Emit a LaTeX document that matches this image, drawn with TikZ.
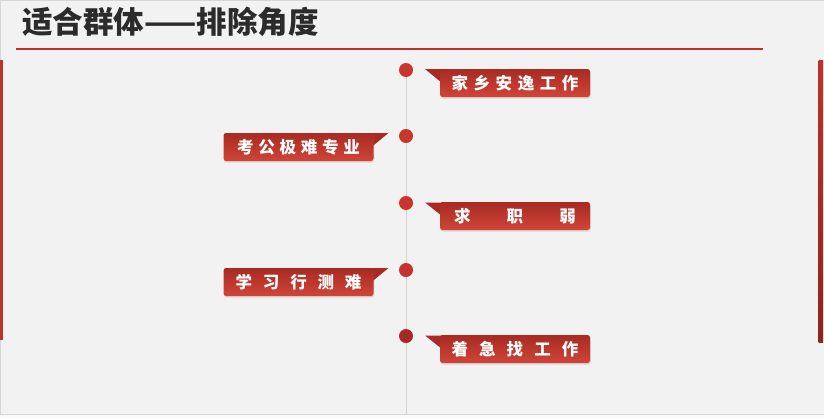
\documentclass[tikz,border=0pt]{standalone}
\usepackage{fontspec}
\newfontfamily\cjk{Noto Sans CJK SC}
\usetikzlibrary{shadows,backgrounds}
\definecolor{bgc}{HTML}{F2F2F2}
\definecolor{framec}{HTML}{D6D6D6}
\definecolor{titlec}{HTML}{2B2B2B}
\definecolor{redline}{HTML}{BC3328}
\definecolor{ribtop}{HTML}{A82A22}
\definecolor{ribbot}{HTML}{D04538}
\definecolor{dotc}{HTML}{C9352D}
\definecolor{dotd}{HTML}{A92A24}
\definecolor{axisc}{HTML}{D2D2D2}
\begin{document}
\begin{tikzpicture}[x=1pt,y=-1pt,
  ribbon/.style={minimum width=150pt, minimum height=28pt, inner sep=0pt,
    rounded corners=2.5pt, top color=ribtop, bottom color=ribbot, draw=none,
    drop shadow={opacity=0.22, shadow xshift=0.8pt, shadow yshift=-1.6pt},
    text=white, font=\cjk\bfseries\fontsize{16.5}{18}\selectfont},
  tail/.style={fill=ribtop, draw=none},
  dotm/.style={circle, minimum size=14pt, inner sep=0pt, fill=dotc, draw=none},
  axis/.style={draw=axisc, line width=1pt}
]
\useasboundingbox (0,0) rectangle (824,418);

% title
\node[anchor=west, inner sep=0pt, text=titlec, font=\cjk\bfseries\fontsize{30.5}{32}\selectfont] (title) at (22,22) {适合群体——排除角度};
\coordinate (ul) at (16,49);
\coordinate (ur) at (763,49);
\draw[redline, line width=2.4pt] (ul) -- (ur);

% axis dots
\coordinate (axisend) at (406,414);
\node[dotm] (d1) at (406,70) {};
\node[dotm] (d2) at (406,136) {};
\node[dotm] (d3) at (406,203) {};
\node[dotm, fill=dotc!85!dotd] (d4) at (406,270) {};
\node[dotm, fill=dotd] (d5) at (406,336) {};

\begin{pgfonlayer}{background}
\fill[bgc] (0,0) rectangle (824,418);
\draw[framec, line width=1pt] (0.5,418) -- (0.5,0.5) -- (823.5,0.5);
\draw[framec, line width=1pt] (0,414.5) -- (824,414.5);
\fill[white!60!bgc] (0,415) rectangle (824,418);
\fill[redline] (0,60) rectangle (2.5,340);
\shade[top color=redline, bottom color=ribtop!85!black] (818.5,60) rectangle (823,342);
\draw[axis] (d1.center) -- (axisend);
\end{pgfonlayer}

% right ribbons
\fill[tail] (425,69) -- (442,69) -- (442,83) -- cycle;
\node[ribbon] (r1) at (515,83) {\makebox[127pt][s]{家\hfill 乡\hfill 安\hfill 逸\hfill 工\hfill 作}};
\fill[tail] (425,202.5) -- (442,202.5) -- (442,216) -- cycle;
\node[ribbon] (r3) at (515,216) {\makebox[122pt][s]{求\hfill 职\hfill 弱}};
\fill[tail] (425,335.5) -- (442,335.5) -- (442,349) -- cycle;
\node[ribbon] (r5) at (515,349) {\makebox[127pt][s]{着\hfill 急\hfill 找\hfill 工\hfill 作}};

% left ribbons
\fill[tail] (388.5,133) -- (371.5,133) -- (371.5,147) -- cycle;
\node[ribbon] (l2) at (298.5,147) {\makebox[123pt][s]{考\hfill 公\hfill 极\hfill 难\hfill 专\hfill 业}};
\fill[tail] (388.5,268) -- (371.5,268) -- (371.5,282) -- cycle;
\node[ribbon] (l4) at (298.5,282) {\makebox[126pt][s]{学\hfill 习\hfill 行\hfill 测\hfill 难}};
\end{tikzpicture}
\end{document}
